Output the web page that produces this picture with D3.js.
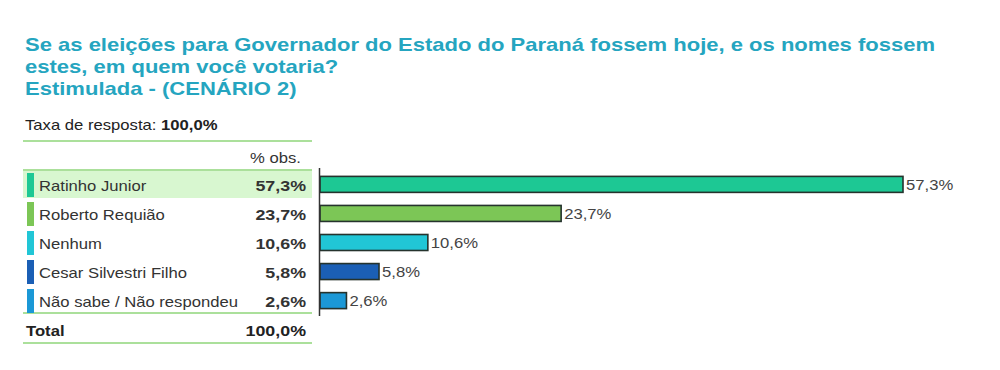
<!DOCTYPE html>
<html><head><meta charset="utf-8">
<script src="https://cdn.jsdelivr.net/npm/d3@7"></script>
<style>
html,body{margin:0;padding:0;background:#fff;}
svg{display:block;font-family:"Liberation Sans",Arial,sans-serif;}
</style></head>
<body><svg id="c" width="1000" height="370"></svg>
<script>
const titleLines = ["Se as eleições para Governador do Estado do Paraná fossem hoje, e os nomes fossem",
  "estes, em quem você votaria?", "Estimulada - (CENÁRIO 2)"];
const categories = ["Ratinho Junior","Roberto Requião","Nenhum","Cesar Silvestri Filho","Não sabe / Não respondeu"];
const values = [57.3, 23.7, 10.6, 5.8, 2.6];
const valueLabels = ["57,3%","23,7%","10,6%","5,8%","2,6%"];
const colors = ["#1dc894","#7cc656","#21c6d6","#1b5fb5","#1b98d6"];
const totalLabel = "Total";
const totalValue = "100,0%";
const responseRate = "100,0%";
const columnHeader = "% obs.";

const SX = 1.19;
const svg = d3.select("#c");
const titleColor = "#25a5c0";
const tr = (x,y)=>`translate(${x},${y}) scale(${SX},1)`;

svg.selectAll("text.title").data(titleLines).join("text")
  .attr("class","title").attr("transform",(d,i)=>tr(25,50.5+i*22))
  .attr("fill",titleColor).attr("font-size",18.5).attr("font-weight","bold")
  .text(d=>d);

const rr = svg.append("text").attr("transform",tr(25,130)).attr("font-size",14).attr("fill","#222");
rr.append("tspan").text("Taxa de resposta: ");
rr.append("tspan").attr("font-weight","bold").text(responseRate);

const lineColor = "#8fd67a";
const tableX0 = 23, tableX1 = 312;
const y = d3.scaleBand().domain(categories).range([170,315]).paddingInner(0.45).paddingOuter(0.22);
const rowY = d3.scaleBand().domain(categories).range([170,315]);

[141,170,313,343].forEach(yy=>{
  svg.append("line").attr("x1",tableX0).attr("x2",tableX1).attr("y1",yy).attr("y2",yy)
    .attr("stroke",lineColor).attr("stroke-width",1.3);
});

svg.append("text").attr("transform",tr(301,163)).attr("text-anchor","end")
  .attr("font-size",14).attr("fill","#333").text(columnHeader);

svg.append("rect").attr("x",tableX0).attr("y",rowY(categories[0])+1).attr("width",tableX1-tableX0)
  .attr("height",rowY.bandwidth()-2).attr("fill","#d8f7d0");

const rows = svg.selectAll("g.row").data(categories).join("g").attr("class","row");
rows.append("rect").attr("x",27).attr("y",d=>rowY(d)+3).attr("width",7).attr("height",rowY.bandwidth()-5)
  .attr("fill",(d,i)=>colors[i]);
rows.append("text").attr("transform",d=>tr(39,rowY(d)+rowY.bandwidth()/2+6.5))
  .attr("font-size",14).attr("fill","#333").text(d=>d);
rows.append("text").attr("transform",d=>tr(306,rowY(d)+rowY.bandwidth()/2+6.5))
  .attr("text-anchor","end").attr("font-size",15).attr("font-weight","bold").attr("fill","#333")
  .text((d,i)=>valueLabels[i]);

svg.append("text").attr("transform",tr(26,335.5)).attr("font-size",14).attr("font-weight","bold").attr("fill","#222").text(totalLabel);
svg.append("text").attr("transform",tr(306,335.5)).attr("text-anchor","end").attr("font-size",15).attr("font-weight","bold").attr("fill","#222").text(totalValue);

const x = d3.scaleLinear().domain([0,57.3]).range([320,903]);
svg.selectAll("rect.bar").data(values).join("rect").attr("class","bar")
  .attr("x",x(0)).attr("y",(d,i)=>y(categories[i]))
  .attr("width",d=>x(d)-x(0)).attr("height",y.bandwidth())
  .attr("fill",(d,i)=>colors[i]).attr("stroke","#25332d").attr("stroke-width",1.6);
svg.selectAll("text.vl").data(values).join("text").attr("class","vl")
  .attr("transform",(d,i)=>tr(x(d)+3,y(categories[i])+y.bandwidth()/2+5.5))
  .attr("font-size",14).attr("fill","#444").text((d,i)=>valueLabels[i]);

svg.append("g").attr("transform","translate(319.5,0)")
  .call(d3.axisLeft(y).tickSize(0).tickFormat(""))
  .call(g=>g.select(".domain").attr("stroke","#333").attr("stroke-width",1.5).attr("d","M0,168V316"));
</script></body></html>
